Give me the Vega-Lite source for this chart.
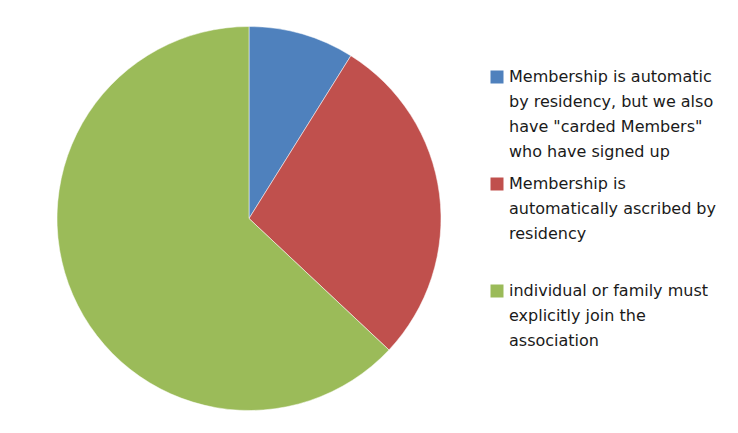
{
  "$schema": "https://vega.github.io/schema/vega-lite/v6.json",
  "width": 498,
  "height": 437,
  "autosize": "none",
  "padding": {"left": 0, "top": 0, "right": 240, "bottom": 0},
  "background": "white",
  "data": {
    "values": [
      {"category": "Membership is automatic|by residency, but we also|have \"carded Members\"|who have signed up", "value": 8.9, "order": 1},
      {"category": "Membership is|automatically ascribed by|residency", "value": 28.1, "order": 2},
      {"category": "individual or family must|explicitly join the|association", "value": 63.0, "order": 3}
    ]
  },
  "mark": {"type": "arc", "outerRadius": 192, "stroke": "white", "strokeWidth": 0.5},
  "encoding": {
    "theta": {"field": "value", "type": "quantitative", "stack": true},
    "order": {"field": "order", "type": "quantitative"},
    "color": {
      "field": "category",
      "type": "nominal",
      "sort": null,
      "scale": {
        "domain": [
          "Membership is automatic|by residency, but we also|have \"carded Members\"|who have signed up",
          "Membership is|automatically ascribed by|residency",
          "individual or family must|explicitly join the|association"
        ],
        "range": ["#4F81BD", "#C0504D", "#9BBB59"]
      },
      "legend": {
        "title": null,
        "orient": "none",
        "legendX": 489,
        "legendY": 69,
        "labelExpr": "split(datum.label + (indexof(datum.label, 'ascribed') >= 0 ? '| ' : ''), '|')",
        "labelFont": "DejaVu Sans",
        "labelFontSize": 16,
        "labelColor": "#1a1a1a",
        "labelLimit": 0,
        "labelBaseline": "top",
        "labelOffset": 4,
        "symbolType": "square",
        "symbolSize": 169,
        "symbolStrokeWidth": 0,
        "rowPadding": 16
      }
    }
  },
  "config": {
    "view": {"stroke": null},
    "style": {"guide-label": {"lineHeight": 25, "dy": -8}}
  }
}
